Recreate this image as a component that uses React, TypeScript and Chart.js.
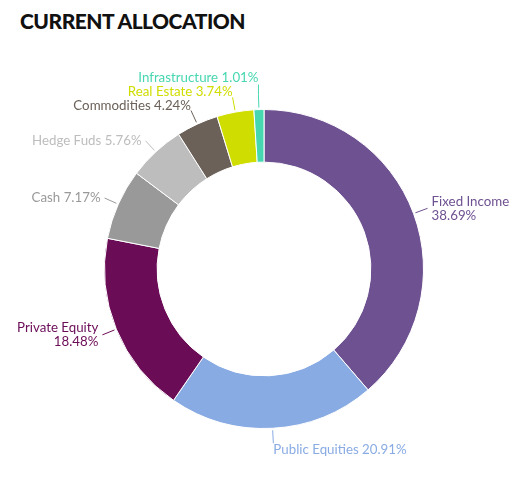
import { useEffect, useRef } from 'react';
import { Chart, registerables } from 'chart.js';

Chart.register(...registerables);

const categories = [
  'Fixed Income',
  'Public Equities',
  'Private Equity',
  'Cash',
  'Hedge Fuds',
  'Commodities',
  'Real Estate',
  'Infrastructure',
];
const allocation = [38.69, 20.91, 18.48, 7.17, 5.76, 4.24, 3.74, 1.01];
const sliceColors = ['#6e5191', '#89abe3', '#6b0c57', '#999999', '#bdbdbd', '#6b6159', '#d0dd00', '#47d7b0'];

const LABEL_FONT = '13.3px Lato';
const LINE_H = 14;

// outside labels with short leader lines
const sliceLabels = {
  id: 'sliceLabels',
  afterDatasetsDraw(chart: any) {
    const { ctx, width } = chart;
    const meta = chart.getDatasetMeta(0);
    ctx.save();
    ctx.font = LABEL_FONT;
    ctx.textBaseline = 'middle';
    let prevBox: any = null;

    meta.data.forEach((arc: any, i: number) => {
      const { x, y, startAngle, endAngle, outerRadius } = arc.getProps(
        ['x', 'y', 'startAngle', 'endAngle', 'outerRadius'],
        true
      );
      const mid = (startAngle + endAngle) / 2;
      const cos = Math.cos(mid);
      const sin = Math.sin(mid);
      const p0 = { x: x + cos * (outerRadius + 2), y: y + sin * (outerRadius + 2) };
      const p1 = { x: x + cos * (outerRadius + 15), y: y + sin * (outerRadius + 15) };
      const pct = allocation[i].toFixed(2) + '%';
      const full = categories[i] + ' ' + pct;
      const side = Math.abs(cos) > 0.45;
      const color = sliceColors[i];

      let lines = [full];
      let align: CanvasTextAlign;
      let tx: number;
      let top: number;
      if (side) {
        align = cos > 0 ? 'left' : 'right';
        tx = cos > 0 ? p1.x + 4 : p1.x - 4;
        const w = ctx.measureText(full).width;
        const fits = cos > 0 ? tx + w < width - 4 : tx - w > 4;
        if (!fits) lines = [categories[i], pct];
        top = p1.y - (lines.length * LINE_H) / 2;
      } else {
        align = cos < 0 ? 'right' : 'left';
        tx = p1.x;
        top = sin < 0 ? p1.y - 13 + 2 : p1.y;
      }
      const w = Math.max(...lines.map((l) => ctx.measureText(l).width));
      const h = lines.length * LINE_H;
      let box = {
        x0: align === 'right' ? tx - w : tx,
        x1: align === 'right' ? tx : tx + w,
        y0: top,
        y1: top + (side ? h : 13),
      };

      // stack the upper-left labels so they do not collide
      if (cos < 0 && sin < 0 && prevBox) {
        const overlapX = box.x0 < prevBox.x1 && box.x1 > prevBox.x0;
        if (overlapX && box.y1 > prevBox.y0 - 1) {
          const dy = box.y1 - (prevBox.y0 - 1);
          box = { ...box, y0: box.y0 - dy, y1: box.y1 - dy };
        }
      }
      if (cos < 0) prevBox = box;

      // leader
      ctx.strokeStyle = color;
      ctx.lineWidth = 1;
      ctx.beginPath();
      ctx.moveTo(p0.x, p0.y);
      ctx.lineTo(p1.x, p1.y);
      if (!side) {
        ctx.lineTo(p1.x, sin < 0 ? Math.min(p1.y, box.y1) : Math.max(p1.y, box.y0));
      } else {
        ctx.lineTo(p1.x, (box.y0 + box.y1) / 2);
      }
      ctx.stroke();

      ctx.fillStyle = color;
      ctx.textAlign = align;
      const lh = side ? LINE_H : 13;
      lines.forEach((l, k) => {
        ctx.fillText(l, tx, box.y0 + lh * k + lh / 2);
      });
    });
    ctx.restore();
  },
};

export default function App() {
  const canvasRef = useRef<HTMLCanvasElement | null>(null);

  useEffect(() => {
    if (!canvasRef.current) return;
    const ctx = canvasRef.current.getContext('2d');
    if (!ctx) return;

    const chart = new Chart(ctx, {
      type: 'doughnut',
      data: {
        labels: categories,
        datasets: [
          {
            data: allocation,
            backgroundColor: sliceColors,
            borderColor: '#ffffff',
            borderWidth: 1,
          },
        ],
      },
      options: {
        responsive: true,
        maintainAspectRatio: false,
        animation: false,
        cutout: '67%',
        layout: {
          padding: { top: 109, bottom: 62, left: 104, right: 104 },
        },
        plugins: {
          legend: { display: false },
          tooltip: { enabled: false },
        },
      },
      plugins: [sliceLabels],
    });

    return () => {
      chart.destroy();
    };
  }, []);

  return (
    <div style={{ position: 'fixed', left: 0, top: 0, width: 528, height: 491, background: '#fff' }}>
      <div
        style={{
          position: 'absolute',
          left: 20,
          top: 8,
          fontFamily: 'Lato',
          fontWeight: 900,
          fontSize: 21,
          letterSpacing: -0.5,
          color: '#111111',
        }}
      >
        CURRENT ALLOCATION
      </div>
      <canvas ref={canvasRef} style={{ position: 'absolute', left: 0, top: 0, width: 528, height: 491 }}></canvas>
    </div>
  );
}
